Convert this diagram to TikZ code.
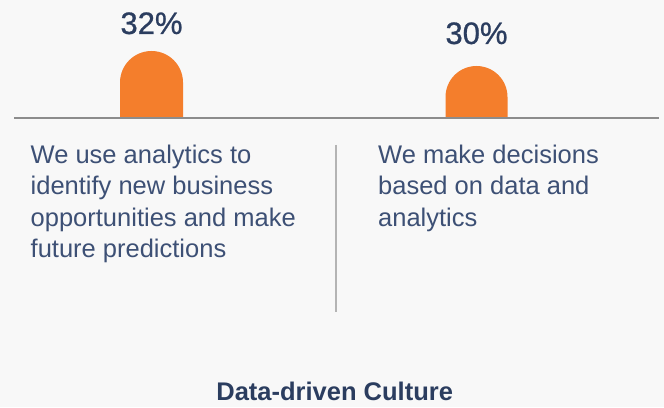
\documentclass[tikz,border=0pt]{standalone}
\usepackage{fontspec}
\setmainfont{Liberation Sans}
\newfontfamily\pctfont[FakeBold=0.8]{Liberation Sans}
\definecolor{bg}{HTML}{F8F8F8}
\definecolor{bar}{HTML}{F47E2C}
\definecolor{axis}{HTML}{8C8C8C}
\definecolor{divline}{HTML}{B4B4B4}
\definecolor{pct}{HTML}{2B3D5F}
\definecolor{body}{HTML}{3D5075}
\tikzset{
  pcttext/.style={inner sep=0pt, anchor=base, text=pct, font=\pctfont\fontsize{31}{36}\selectfont},
  bodytext/.style={inner sep=0pt, anchor=base west, text=body, font=\fontsize{25.5}{31}\selectfont},
  titletext/.style={inner sep=0pt, anchor=base, text=pct, font=\fontsize{25.5}{31}\selectfont\bfseries},
  barshape/.style={fill=bar, draw=none},
}
\begin{document}
\begin{tikzpicture}[x=1pt,y=1pt]
\fill[bg] (0,0) rectangle (664,407);
\useasboundingbox (0,0) rectangle (664,407);
% bars
\fill[barshape] (120,289) -- (120,324.5) arc[start angle=180,end angle=0,radius=31.5] -- (183,289) -- cycle;
\fill[barshape] (445.5,289) -- (445.5,310) arc[start angle=180,end angle=0,radius=31] -- (507.5,289) -- cycle;
% axis
\coordinate (axL) at (14,289);
\coordinate (axR) at (659,289);
\draw[axis, line width=2pt] (axL) -- (axR);
% divider
\coordinate (dvT) at (335.7,262);
\coordinate (dvB) at (335.7,95);
\draw[divline, line width=2pt] (dvT) -- (dvB);
% percentages
\node[pcttext] (p1) at (151.5,373) {32\%};
\node[pcttext] (p2) at (476.5,363) {30\%};
% left text
\node[bodytext] (l1) at (30.5,243) {We use analytics to};
\node[bodytext] (l2) at (30.5,212) {identify new business};
\node[bodytext] (l3) at (30.5,180) {opportunities and make};
\node[bodytext] (l4) at (30.5,149) {future predictions};
% right text
\node[bodytext] (r1) at (378,243) {We make decisions};
\node[bodytext] (r2) at (378,212) {based on data and};
\node[bodytext] (r3) at (378,180) {analytics};
% title
\node[titletext] (title) at (334.7,6) {Data-driven Culture};
\end{tikzpicture}
\end{document}
